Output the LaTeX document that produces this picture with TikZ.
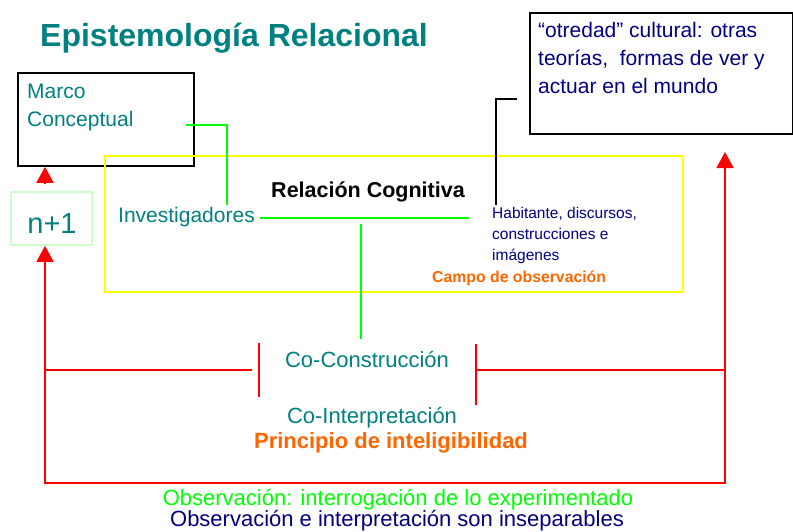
\documentclass[tikz,border=0pt]{standalone}
\usepackage{fontspec}
\setmainfont{Liberation Sans}
\usetikzlibrary{arrows.meta,calc}
\definecolor{teal}{RGB}{0,128,128}
\definecolor{navy}{RGB}{0,0,128}
\definecolor{naranja}{RGB}{255,102,0}
\definecolor{verde}{RGB}{0,255,0}
\definecolor{verdeclaro}{RGB}{204,255,204}
\definecolor{amarillo}{RGB}{255,255,0}
\tikzset{caja/.style={draw=black,line width=1.8pt,inner sep=0pt},
  txt/.style={inner sep=0pt,font=\fontsize{21}{28}\selectfont},
  rojo/.style={draw=red,line width=1.6pt},
  punta/.style={-{Triangle[width=17pt,length=16pt]}},
  flecha/.style={rojo,punta},
  liga/.style={draw=verde,line width=1.6pt}}

\begin{document}
\begin{tikzpicture}[x=1pt,y=-1pt]
\useasboundingbox (0,0) rectangle (793,531);
\coordinate (lc) at (45,483);
\coordinate (rc) at (725,483);
\coordinate (rt) at (725,152);
\coordinate (gm) at (186,125);
\coordinate (bk) at (517,99);

\node[txt,anchor=base west,text=teal,font=\fontsize{32}{36}\selectfont\bfseries] (titulo) at (40,46) {Epistemología Relacional};

\node[caja,minimum width=176pt,minimum height=93pt,anchor=north west] (marco) at (17,72) {};
\node[txt,anchor=base west,align=left,text=teal] (marcotxt) at (27,126) {Marco\\Conceptual};

\node[draw=verdeclaro,line width=1.8pt,minimum width=81pt,minimum height=53pt,inner sep=0pt] (n1) at (51.5,218.5) {};
\node[txt,anchor=base,text=teal,font=\fontsize{29}{32}\selectfont] (n1txt) at (52,233) {n+1};

\node[draw=amarillo,line width=1.6pt,minimum width=578pt,minimum height=136pt,inner sep=0pt] (campo) at (394,224) {};
\node[txt,anchor=base,font=\fontsize{21.5}{24}\selectfont\bfseries] (rel) at (368,197) {Relación Cognitiva};
\node[txt,anchor=base west,text=teal] (inv) at (118,222) {Investigadores};
\node[txt,anchor=base west,align=left,text=navy,font=\fontsize{15.5}{21}\selectfont] (hab) at (492,260) {Habitante, discursos,\\construcciones e\\imágenes};
\node[txt,anchor=base west,text=naranja,font=\fontsize{15.8}{18}\selectfont\bfseries] (campotxt) at (432,282) {Campo de observación};

\node[caja,minimum width=263pt,minimum height=121pt,anchor=north west] (otro) at (529,12) {};
\node[txt,anchor=base west,align=left,text=navy] (otrotxt) at (538,93) {“otredad” cultural: otras\\teorías,\ \ formas de ver y\\actuar en el mundo};

\node[txt,anchor=base,text=teal,font=\fontsize{22}{24}\selectfont] (cocon) at (367,367) {Co-Construcción};
\node[txt,anchor=base,text=teal,font=\fontsize{22}{24}\selectfont] (coint) at (372,423) {Co-Interpretación};
\node[txt,anchor=base,text=naranja,font=\fontsize{22}{24}\selectfont\bfseries] (princ) at (391,448) {Principio de inteligibilidad};
\node[txt,anchor=base,text=verde,font=\fontsize{22}{24}\selectfont] (obs) at (398,505) {Observación: interrogación de lo experimentado};
\node[txt,anchor=base,text=navy,font=\fontsize{22}{24}\selectfont] (insep) at (397,526) {Observación e interpretación son inseparables};

% bucle rojo
\draw[rojo,{Triangle[width=17pt,length=16pt]}-{Triangle[width=17pt,length=16pt]}] (n1.south -| lc) -- (lc) -- (rc) -- (rt);
\draw[flecha] ([yshift=7pt]n1.north -| lc) -- (marco.south -| lc);
\draw[rojo] (lc |- 0,370) -- (252,370);
\draw[rojo] (476,370) -- (rc |- 0,370);
\draw[rojo] (259,343) -- (259,397);
\draw[rojo] (476,344) -- (476,405);

% lineas verdes
\draw[liga] (gm) -| (227,205);
\draw[liga] ([xshift=5pt]inv.east |- 0,218) -- (469,218);
\draw[liga] (361,224) -- (361,339);

\draw[line width=1.6pt] (bk) -| (496,205);
\end{tikzpicture}
\end{document}
